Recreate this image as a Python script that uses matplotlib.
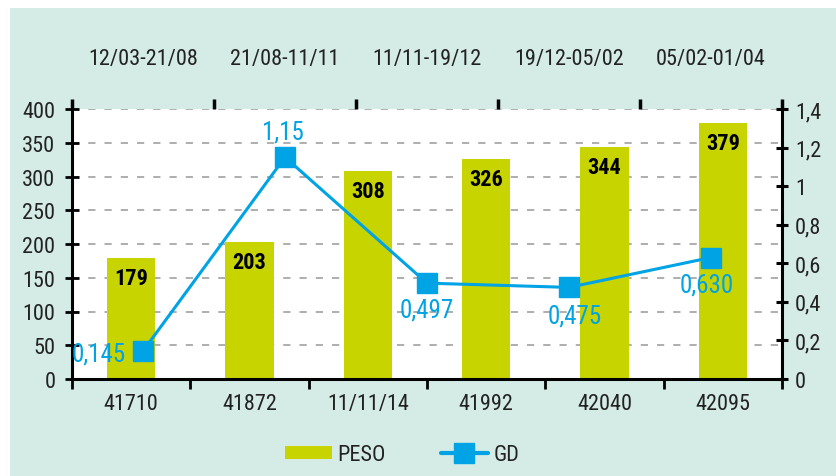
import numpy as np
import matplotlib.pyplot as plt
from matplotlib.patches import Rectangle

# data
bottom_labels = ['41710', '41872', '11/11/14', '41992', '42040', '42095']
peso = [179, 203, 308, 326, 344, 379]
periods = ['12/03-21/08', '21/08-11/11', '11/11-19/12', '19/12-05/02', '05/02-01/04']
gd = [0.145, 1.15, 0.497, 0.475, 0.630]
gd_labels = ['0,145', '1,15', '0,497', '0,475', '0,630']
left_ticks = list(range(0, 401, 50))
right_ticks = [0, 0.2, 0.4, 0.6, 0.8, 1.0, 1.2, 1.4]
right_ticklabels = ['0', '0,2', '0,4', '0,6', '0,8', '1', '1,2', '1,4']

BG = '#d5ece6'
BAR = '#c8d400'
BLUE = '#00a3e4'
TXT = '#222222'
FONT = ['Roboto Condensed', 'Liberation Sans Narrow', 'Roboto', 'DejaVu Sans']

plt.rcParams['font.family'] = FONT
plt.rcParams['font.size'] = 16

W, H = 836, 477
fig = plt.figure(figsize=(W / 100, H / 100), dpi=100)
fig.patch.set_facecolor('white')
fig.patches.append(Rectangle((10 / W, 0), 1, 1 - 9 / H, transform=fig.transFigure,
                             facecolor=BG, edgecolor='none', zorder=-10))

x0, x1, ytop, ybot = 72, 782, 110, 380
ax = fig.add_axes([x0 / W, 1 - ybot / H, (x1 - x0) / W, (ybot - ytop) / H])
ax.set_facecolor('white')

# bars
xb = np.arange(len(peso))
ax.bar(xb, peso, width=0.41, color=BAR, zorder=2)
ax.set_xlim(-0.5, len(peso) - 0.5)
ax.set_ylim(0, 400)
ax.set_yticks(left_ticks)
ax.set_yticklabels([str(t) for t in left_ticks], color=TXT)
ax.set_xticks(np.arange(len(peso) + 1) - 0.5)
ax.set_xticklabels([])
ax.set_xticks(xb, minor=True)
ax.set_xticklabels(bottom_labels, minor=True, color=TXT)
ax.tick_params(axis='x', which='major', length=7, width=2, direction='out')
ax.tick_params(axis='x', which='minor', length=0, pad=10)
ax.tick_params(axis='y', length=10, width=2, direction='inout', pad=7)
ax.grid(axis='y', linestyle=(0, (4, 5)), color='#a8a8a8', linewidth=1.3, zorder=0)
ax.set_axisbelow(True)
for s in ['top', 'right']:
    ax.spines[s].set_visible(False)
for s in ['left', 'bottom']:
    ax.spines[s].set_linewidth(2.2)

for x, v in zip(xb, peso):
    ax.annotate(str(v), (x, v), xytext=(0, -20), textcoords='offset pixels',
                ha='center', va='center', fontsize=16, fontweight='bold', color='black',
                zorder=5)

# right axis
ax2 = ax.twinx()
ax2.set_ylim(0, 1.4)
ax2.set_yticks(right_ticks)
ax2.set_yticklabels(right_ticklabels, color=TXT)
ax2.tick_params(axis='y', length=9, width=2.2, direction='inout', pad=5)
for s in ['top', 'left', 'bottom']:
    ax2.spines[s].set_visible(False)
ax2.spines['right'].set_linewidth(2.2)

# top axis with periods and GD line
ax3 = ax2.twiny()
ax3.set_xlim(-0.5, len(gd) - 0.5)
xg = np.arange(len(gd))
ax3.set_xticks(np.arange(len(gd) + 1) - 0.5)
ax3.set_xticklabels([])
ax3.set_xticks(xg, minor=True)
ax3.set_xticklabels(periods, minor=True, color=TXT)
ax3.tick_params(axis='x', which='major', length=7, width=2.5, direction='out')
ax3.tick_params(axis='x', which='minor', length=0, pad=29)
for s in ax3.spines.values():
    s.set_visible(False)
ax3.plot(xg, gd, color=BLUE, linewidth=2.2, marker='s', markersize=14,
         markerfacecolor=BLUE, markeredgecolor=BLUE, zorder=4, clip_on=False)

offsets = [(-17, -2, 'right', 'center'), (-2, 26, 'center', 'center'),
           (0, -26, 'center', 'center'), (6, -28, 'center', 'center'),
           (-4, -27, 'center', 'center')]
for x, v, t, (dx, dy, ha, va) in zip(xg, gd, gd_labels, offsets):
    ax3.annotate(t, (x, v), xytext=(dx, dy), textcoords='offset pixels',
                 ha=ha, va=va, fontsize=18, color=BLUE, zorder=6)

# legend
h1 = Rectangle((0, 0), 1, 1, facecolor=BAR, edgecolor='none')
h2, = ax3.plot([], [], color=BLUE, linewidth=3, marker='s', markersize=14,
               solid_capstyle='round')
fig.legend([h1, h2], ['PESO', 'GD'], loc='center', ncol=2, frameon=False,
           bbox_to_anchor=(402 / W, 1 - 456 / H), handlelength=2.1,
           handleheight=0.55, columnspacing=2.5, handletextpad=0.25, fontsize=16,
           labelcolor=TXT)

fig.savefig('out.png', dpi=100, facecolor=fig.get_facecolor())
